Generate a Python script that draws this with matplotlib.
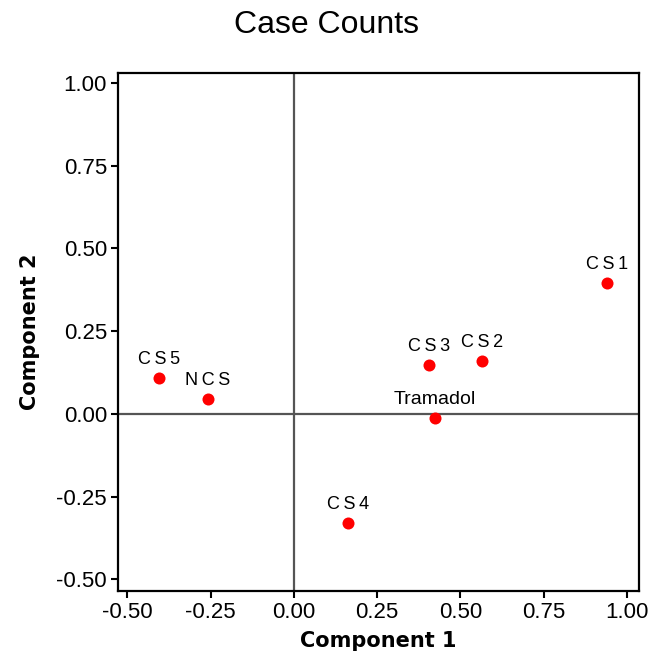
import matplotlib
matplotlib.use('Agg')
import matplotlib.pyplot as plt

# component loadings
labels = ['CS1', 'CS2', 'CS3', 'Tramadol', 'CS4', 'CS5', 'NCS']
comp1 = [0.94, 0.565, 0.405, 0.423, 0.162, -0.405, -0.258]
comp2 = [0.396, 0.160, 0.148, -0.012, -0.329, 0.109, 0.045]

xticks = [-0.50, -0.25, 0.00, 0.25, 0.50, 0.75, 1.00]
yticks = [-0.50, -0.25, 0.00, 0.25, 0.50, 0.75, 1.00]

plt.rcParams['font.family'] = ['Liberation Sans', 'DejaVu Sans']

fig = plt.figure(figsize=(6.53, 6.61), dpi=100)
ax = fig.add_axes([0.1807, 0.1059, 0.7979, 0.7837])

ax.axhline(0, color='#555555', lw=1.6, zorder=1)
ax.axvline(0, color='#555555', lw=1.6, zorder=1)
ax.scatter(comp1, comp2, s=75, color='#ff0000', zorder=3, linewidths=0)

for name, x, y in zip(labels, comp1, comp2):
    # short labels look letter-spaced in the original
    if name == 'Tramadol':
        txt, fs = name, 14
    else:
        txt, fs = '\u2009'.join(name), 13
    ax.annotate(txt, (x, y), xytext=(0, 7), textcoords='offset points',
                ha='center', va='bottom', fontsize=fs)

ax.set_xlim(-0.528, 1.036)
ax.set_ylim(-0.535, 1.03)
ax.set_xticks(xticks)
ax.set_yticks(yticks)
ax.set_xticklabels(['%.2f' % t for t in xticks])
ax.set_yticklabels(['%.2f' % t for t in yticks])
ax.tick_params(labelsize=16, width=1.5, length=5, pad=3)
for sp in ax.spines.values():
    sp.set_linewidth(1.6)

ax.set_xlabel('Component 1', fontsize=15, fontweight='bold', family='DejaVu Sans', labelpad=6)
ax.set_ylabel('Component 2', fontsize=15, fontweight='bold', family='DejaVu Sans', labelpad=12)
fig.suptitle('Case Counts', fontsize=23, y=0.985)

fig.savefig('out.png', dpi=100)
